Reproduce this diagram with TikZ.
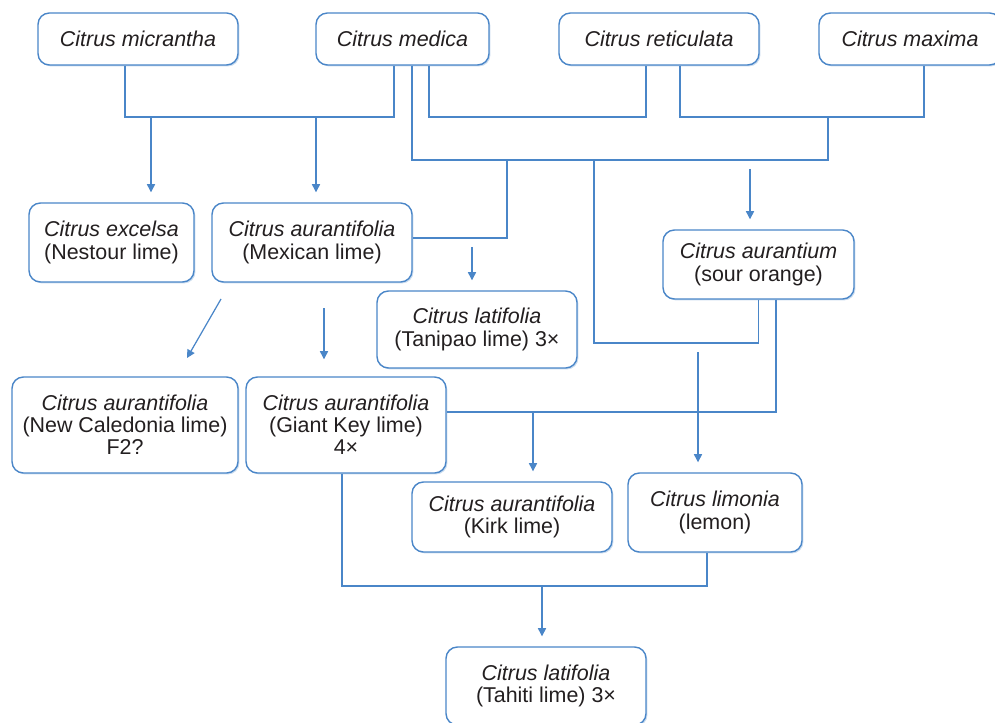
\documentclass[tikz,border=0pt]{standalone}
\usepackage{fontspec}
\setmainfont{Liberation Sans}
\usetikzlibrary{arrows.meta,shadows}
\definecolor{citblue}{RGB}{74,134,200}
\definecolor{cittext}{RGB}{35,31,32}

\begin{document}
\begin{tikzpicture}[
    box/.style={draw=citblue, line width=0.8pt, rounded corners=6.5pt, fill=white, minimum width=4cm, minimum height=1.56cm, align=center, text=cittext, font=\fontsize{12.2}{12.6}\selectfont, drop shadow={shadow xshift=0.8pt, shadow yshift=-0.8pt, fill=citblue!30, opacity=1}},
    lnk/.style={citblue, line width=0.7pt},
    arr/.style={lnk, -{Triangle[width=4.6pt,length=4.6pt]}, shorten >=0.2cm}
  ]
    \useasboundingbox (0,0) rectangle (19.9,-14.44);

    % parent species
    \node[box, minimum height=1.04cm] (micr) at (2.76,-0.78) {\textit{Citrus micrantha}};
    \node[box, minimum width=3.46cm, minimum height=1.04cm] (medi) at (8.05,-0.78) {\textit{Citrus medica}};
    \node[box, minimum height=1.04cm] (reti) at (13.18,-0.78) {\textit{Citrus reticulata}};
    \node[box, minimum width=3.64cm, minimum height=1.04cm] (maxi) at (18.2,-0.78) {\textit{Citrus maxima}};

    % hybrids
    \node[box, minimum width=3.3cm, minimum height=1.58cm] (exce) at (2.23,-4.85) {\textit{Citrus excelsa}\\(Nestour lime)};
    \node[box, minimum height=1.58cm] (mexi) at (6.24,-4.85) {\textit{Citrus aurantifolia}\\(Mexican lime)};
    \node[box, minimum height=1.54cm] (tani) at (9.54,-6.59) {\textit{Citrus latifolia}\\(Tanipao lime) 3×};
    \node[box, minimum width=3.82cm, minimum height=1.38cm] (aura) at (15.17,-5.29) {\textit{Citrus aurantium}\\(sour orange)};
    \node[box, minimum width=4.52cm, minimum height=1.92cm] (newc) at (2.5,-8.5) {\textit{Citrus aurantifolia}\\(New Caledonia lime)\\F2?};
    \node[box, minimum height=1.92cm] (gian) at (6.92,-8.5) {\textit{Citrus aurantifolia}\\(Giant Key lime)\\4×};
    \node[box, minimum height=1.4cm] (kirk) at (10.24,-10.34) {\textit{Citrus aurantifolia}\\(Kirk lime)};
    \node[box, minimum width=3.48cm, minimum height=1.58cm] (lemo) at (14.3,-10.25) {\textit{Citrus limonia}\\(lemon)};
    \node[box] (tahi) at (10.92,-13.72) {\textit{Citrus latifolia}\\(Tahiti lime) 3×};

    % junction points
    \coordinate (mmL) at (2.5,-2.34);
    \coordinate (mmR) at (7.88,-2.34);
    \coordinate (toExc) at (3.02,-2.34);
    \coordinate (toMex) at (6.32,-2.34);
    \coordinate (mrL) at (8.58,-2.34);
    \coordinate (mrR) at (12.92,-2.34);
    \coordinate (rmL) at (13.6,-2.34);
    \coordinate (rmR) at (18.48,-2.34);
    \coordinate (mxA) at (8.24,-3.2);
    \coordinate (mxB) at (16.56,-3.2);
    \coordinate (mxC) at (16.56,-2.34);
    \coordinate (tnA) at (10.14,-3.2);
    \coordinate (tnB) at (10.14,-4.76);
    \coordinate (tpA) at (9.44,-4.94);
    \coordinate (soA) at (11.88,-3.2);
    \coordinate (soB) at (11.88,-6.86);
    \coordinate (auA) at (15.0,-3.38);
    \coordinate (dg1) at (4.42,-5.98);
    \coordinate (dg2) at (3.74,-7.16);
    \coordinate (gkA) at (6.48,-6.16);
    \coordinate (kkA) at (15.52,-8.24);
    \coordinate (kkB) at (10.66,-8.24);
    \coordinate (lmA) at (13.96,-7.04);
    \coordinate (thA) at (6.84,-11.72);
    \coordinate (thB) at (14.14,-11.72);
    \coordinate (thC) at (10.84,-11.72);

    % crosses
    \draw[lnk] (micr.south -| mmL) -- (mmL) -- (mmR) -- (medi.south -| mmR);
    \draw[lnk] (medi.south -| mrL) -- (mrL) -- (mrR) -- (reti.south -| mrR);
    \draw[lnk] (reti.south -| rmL) -- (rmL) -- (rmR) -- (maxi.south -| rmR);
    \draw[lnk] (medi.south -| mxA) -- (mxA) -- (mxB) -- (mxC);
    \draw[lnk] (tnA) -- (tnB) -- (mexi.east |- tnB);
    \draw[lnk] (soA) -- (soB) -| (aura.south);
    \draw[lnk] (aura.south -| kkA) -- (kkA) -- (gian.east |- kkA);
    \draw[lnk] (gian.south -| thA) -- (thA) -- (thB) -- (lemo.south -| thB);

    % offspring
    \draw[arr] (toExc) -- (toExc |- exce.north);
    \draw[arr] (toMex) -- (toMex |- mexi.north);
    \draw[arr] (tpA) -- (tpA |- tani.north);
    \draw[arr] (auA) -- (auA |- aura.north);
    \draw[arr, shorten >=0pt] (dg1) -- (dg2);
    \draw[arr, shorten >=0.34cm] (gkA) -- (gkA |- gian.north);
    \draw[arr] (kkB) -- (kkB |- kirk.north);
    \draw[arr] (lmA) -- (lmA |- lemo.north);
    \draw[arr] (thC) -- (thC |- tahi.north);
  \end{tikzpicture}
\end{document}
